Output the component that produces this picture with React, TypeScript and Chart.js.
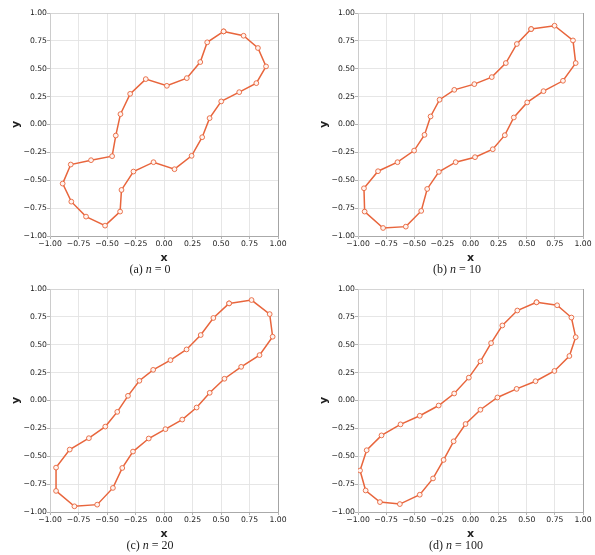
import React, { useEffect, useRef } from "react";
import { Chart, registerables } from "chart.js";

Chart.register(...registerables);

// Panel (a) n = 0
const aX = [0.523, 0.698, 0.824, 0.895, 0.81, 0.66, 0.502, 0.4, 0.335, 0.242, 0.092, -0.092, -0.268, -0.373, -0.385, -0.517, -0.684, -0.813, -0.889, -0.818, -0.64, -0.455, -0.423, -0.382, -0.297, -0.16, 0.025, 0.2, 0.318, 0.379];
const aY = [0.835, 0.796, 0.686, 0.521, 0.371, 0.29, 0.207, 0.057, -0.114, -0.281, -0.401, -0.338, -0.422, -0.587, -0.781, -0.907, -0.826, -0.692, -0.53, -0.359, -0.32, -0.284, -0.099, 0.093, 0.275, 0.407, 0.347, 0.416, 0.56, 0.737];

// Panel (b) n = 10
const bX = [0.539, 0.747, 0.911, 0.935, 0.822, 0.649, 0.504, 0.385, 0.305, 0.198, 0.04, -0.132, -0.281, -0.385, -0.438, -0.575, -0.777, -0.941, -0.947, -0.822, -0.649, -0.501, -0.409, -0.355, -0.275, -0.144, 0.034, 0.189, 0.314, 0.412];
const bY = [0.856, 0.886, 0.754, 0.551, 0.392, 0.299, 0.198, 0.063, -0.096, -0.222, -0.293, -0.338, -0.425, -0.578, -0.775, -0.916, -0.928, -0.781, -0.572, -0.419, -0.338, -0.234, -0.093, 0.072, 0.222, 0.311, 0.362, 0.425, 0.551, 0.722];

// Panel (c) n = 20
const cX = [0.571, 0.768, 0.927, 0.953, 0.838, 0.677, 0.53, 0.401, 0.286, 0.16, 0.013, -0.134, -0.272, -0.366, -0.448, -0.586, -0.786, -0.947, -0.947, -0.827, -0.659, -0.515, -0.41, -0.316, -0.216, -0.095, 0.057, 0.198, 0.322, 0.433];
const cY = [0.871, 0.901, 0.775, 0.572, 0.407, 0.302, 0.195, 0.069, -0.063, -0.171, -0.257, -0.341, -0.458, -0.605, -0.784, -0.934, -0.949, -0.811, -0.602, -0.44, -0.338, -0.234, -0.102, 0.042, 0.177, 0.275, 0.362, 0.458, 0.587, 0.74];

// Panel (d) n = 100
const dX = [0.587, 0.77, 0.897, 0.935, 0.879, 0.746, 0.578, 0.41, 0.239, 0.088, -0.044, -0.15, -0.239, -0.333, -0.451, -0.628, -0.805, -0.932, -0.982, -0.923, -0.791, -0.622, -0.451, -0.283, -0.145, -0.015, 0.088, 0.183, 0.283, 0.416];
const dY = [0.881, 0.854, 0.744, 0.568, 0.399, 0.265, 0.173, 0.104, 0.027, -0.083, -0.211, -0.366, -0.533, -0.699, -0.845, -0.929, -0.911, -0.807, -0.628, -0.446, -0.313, -0.214, -0.137, -0.045, 0.063, 0.205, 0.351, 0.515, 0.673, 0.807];

const captionLetters = ["a", "b", "c", "d"];
const captionN = ["0", "10", "20", "100"];

const LINE = "#E8653C";
const TICK_FONT = { family: "'DejaVu Sans', sans-serif", size: 7.7 };
const TITLE_FONT = { family: "'DejaVu Sans', sans-serif", size: 11, weight: "bold" as const };

function fmt(v: number) {
  let s = Number(v).toFixed(2);
  if (s === "-0.00") s = "0.00";
  return s.replace("-", "\u2212");
}

type PanelProps = {
  xs: number[];
  ys: number[];
  left: number;
  top: number;
  width: number;
  padLeft: number;
  padRight: number;
};

const H = 262;

function Panel({ xs, ys, left, top, width, padLeft, padRight }: PanelProps) {
  const ref = useRef<HTMLCanvasElement | null>(null);
  useEffect(() => {
    if (!ref.current) return;
    const pts = xs.map((x, i) => ({ x, y: ys[i] }));
    pts.push({ x: xs[0], y: ys[0] });
    const chart = new Chart(ref.current, {
      type: "scatter",
      data: {
        datasets: [
          {
            data: pts,
            showLine: true,
            borderColor: LINE,
            borderWidth: 1.5,
            pointRadius: 2.4,
            pointBorderWidth: 0.9,
            pointBackgroundColor: "#fff4f0",
            pointBorderColor: LINE,
            tension: 0,
          },
        ],
      },
      options: {
        responsive: false,
        animation: false,
        devicePixelRatio: 1,
        layout: { padding: { top: 13, right: padRight, left: padLeft, bottom: 0 } },
        plugins: { legend: { display: false }, tooltip: { enabled: false } },
        scales: {
          x: {
            type: "linear",
            min: -1,
            max: 1,
            afterFit: (s: any) => {
              s.height = 26;
            },
            ticks: {
              stepSize: 0.25,
              autoSkip: false,
              maxRotation: 0,
              padding: 0,
              color: "#222",
              font: TICK_FONT,
              callback: (v: any) => fmt(v),
            },
            grid: {
              color: (c: any) => (c.tick && Math.abs(c.tick.value - 1) < 1e-6 ? "#9a9a9a" : "#e3e3e3"),
              lineWidth: 0.9,
              tickLength: 3,
              tickColor: "#aaa",
            },
            border: { color: "#aaa", width: 1 },
            title: { display: true, text: "x", font: TITLE_FONT, color: "#222", padding: { top: 0, bottom: -3 } },
          },
          y: {
            type: "linear",
            min: -1,
            max: 1,
            afterFit: (s: any) => {
              s.width = 50;
            },
            ticks: {
              stepSize: 0.25,
              autoSkip: false,
              padding: 0,
              color: "#222",
              font: TICK_FONT,
              callback: (v: any) => fmt(v),
            },
            grid: {
              color: (c: any) => (c.tick && Math.abs(c.tick.value - 1) < 1e-6 ? "#d0d0d0" : "#e3e3e3"),
              lineWidth: 0.9,
              tickLength: 3,
              tickColor: "#aaa",
            },
            border: { color: "#cccccc", width: 1 },
            title: { display: true, text: "y", font: TITLE_FONT, color: "#222", padding: { top: 10, bottom: 0 } },
          },
        },
      },
    } as any);
    return () => chart.destroy();
  }, []);
  return (
    <canvas
      ref={ref}
      width={width}
      height={H}
      style={{ position: "absolute", left, top, width, height: H }}
    />
  );
}

function Caption({ letter, n, cx, cy }: { letter: string; n: string; cx: number; cy: number }) {
  return (
    <div
      style={{
        position: "absolute",
        left: cx - 60,
        top: cy - 8,
        width: 120,
        textAlign: "center",
        fontFamily: "'Liberation Serif', 'DejaVu Serif', serif",
        fontSize: 12,
        lineHeight: "16px",
        color: "#222",
        whiteSpace: "nowrap",
      }}
    >
      ({letter}) <i>n</i> = {n}
    </div>
  );
}

export default function App() {
  return (
    <div style={{ position: "absolute", left: 0, top: 0, width: 595, height: 555, background: "#fff" }}>
      <Panel xs={aX} ys={aY} left={0} top={0} width={297} padLeft={0} padRight={19} />
      <Panel xs={bX} ys={bY} left={300} top={0} width={295} padLeft={8} padRight={12} />
      <Panel xs={cX} ys={cY} left={0} top={276} width={297} padLeft={0} padRight={19} />
      <Panel xs={dX} ys={dY} left={300} top={276} width={295} padLeft={8} padRight={12} />
      <Caption letter={captionLetters[0]} n={captionN[0]} cx={150} cy={269} />
      <Caption letter={captionLetters[1]} n={captionN[1]} cx={457} cy={269} />
      <Caption letter={captionLetters[2]} n={captionN[2]} cx={150} cy={545} />
      <Caption letter={captionLetters[3]} n={captionN[3]} cx={456} cy={545} />
    </div>
  );
}
